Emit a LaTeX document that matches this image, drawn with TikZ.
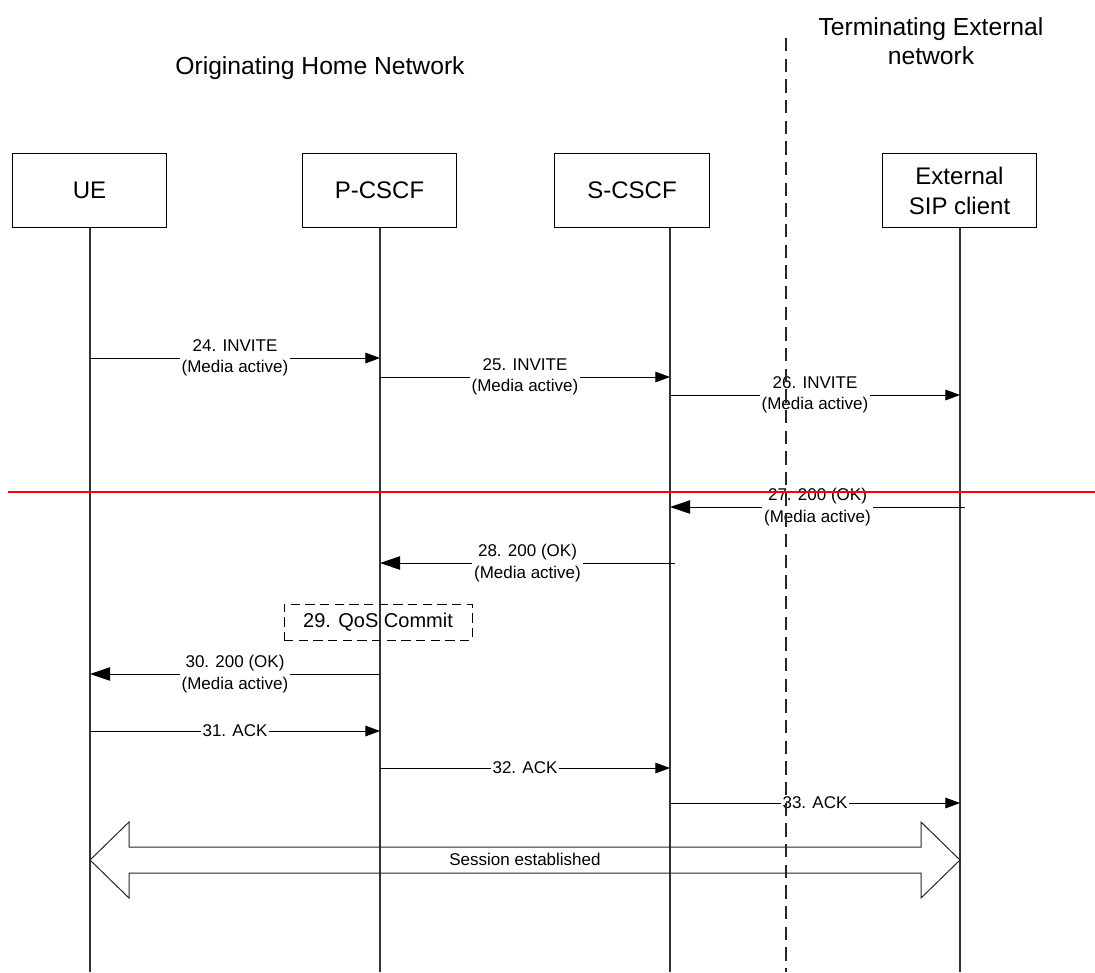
\documentclass[tikz,border=0pt]{standalone}
\usepackage{fontspec}
\setmainfont{Liberation Sans}
\usetikzlibrary{arrows.meta}
\tikzset{
  entity/.style={draw, line width=0.8pt, minimum width=116pt, minimum height=56pt, inner sep=0pt, align=center, font=\fontsize{18}{22.5}\selectfont},
  title/.style={align=center, font=\fontsize{18.5}{21.8}\selectfont},
  life/.style={line width=1.1pt, black!80},
  msg/.style={line width=0.75pt, -{Triangle[length=11pt,width=8pt]}},
  bigmsg/.style={line width=0.75pt, -{Triangle[length=15pt,width=10pt]}},
  lbl/.style={fill=white, inner sep=1.5pt, align=center, font=\fontsize{12.75}{16}\selectfont},
  qos/.style={draw, dash pattern=on 7pt off 4pt, line width=0.75pt, minimum width=141pt, minimum height=27pt, font=\fontsize{15}{18}\selectfont},
  border/.style={line width=0.9pt, black!85, dash pattern=on 10pt off 5.5pt},
  cut/.style={red, line width=1.2pt},
  session/.style={line width=0.75pt, black!85}
}
\begin{document}
\begin{tikzpicture}[x=0.75pt,y=-0.75pt]
\useasboundingbox (0,0) rectangle (1095,972);

% titles
\node[title] (orig) at (320,68) {Originating Home Network};
\node[title] (term) at (931,41) {Terminating External\\network};

% entities
\node[entity] (ue) at (89.5,190.5) {UE};
\node[entity] (pc) at (379.5,190.5) {P-CSCF};
\node[entity] (sc) at (632,190.5) {S-CSCF};
\node[entity] (ext) at (959.5,190.5) {External\\SIP client};

% lifeline coordinates
\coordinate (uet) at (90,228);   \coordinate (ueb) at (90,972);
\coordinate (pct) at (380,228);  \coordinate (pcb) at (380,972);
\coordinate (sct) at (670,228);  \coordinate (scb) at (670,972);
\coordinate (ext1) at (960,228); \coordinate (extb) at (960,972);
\draw[life] (uet) -- (ueb);
\draw[life] (pct) -- (pcb);
\draw[life] (sct) -- (scb);
\draw[life] (ext1) -- (extb);

% messages
\draw[msg] (uet |- 0,358) -- node[lbl] (m24) {24. INVITE\\(Media active)} (pct |- 0,358);
\draw[msg] (pct |- 0,377) -- node[lbl] (m25) {25. INVITE\\(Media active)} (sct |- 0,377);
\draw[msg] (sct |- 0,395) -- node[lbl] (m26) {26. INVITE\\(Media active)} (ext1 |- 0,395);
\coordinate (s27) at (965,507);
\draw[bigmsg] (s27) -- node[lbl] (m27) {27. 200 (OK)\\(Media active)} (sct |- s27);
\coordinate (s28) at (675,563);
\draw[bigmsg] (s28) -- node[lbl] (m28) {28. 200 (OK)\\(Media active)} (pct |- s28);
\node[qos] (q29) at (378,622) {29. QoS Commit};
\draw[bigmsg] (pct |- 0,674) -- node[lbl] (m30) {30. 200 (OK)\\(Media active)} (uet |- 0,674);
\draw[msg] (uet |- 0,731) -- node[lbl] (m31) {31. ACK} (pct |- 0,731);
\draw[msg] (pct |- 0,768) -- node[lbl] (m32) {32. ACK} (sct |- 0,768);
\draw[msg] (sct |- 0,803) -- node[lbl] (m33) {33. ACK} (ext1 |- 0,803);

% session established
\draw[session] (uet |- 0,860) -- (129,822) -- (129,847) -- (921,847) -- (921,822)
  -- (ext1 |- 0,860) -- (921,898) -- (921,873) -- (129,873) -- (129,898) -- cycle;
\node[lbl, fill=none] (sess) at (525,859) {Session established};

% network border and red line
\coordinate (bt) at (786,38);
\coordinate (bb) at (786,972);
\draw[border] (bt) -- (bb);
\coordinate (rl) at (8,492);
\coordinate (rr) at (1095,492);
\draw[cut] (rl) -- (rr);
\end{tikzpicture}
\end{document}
